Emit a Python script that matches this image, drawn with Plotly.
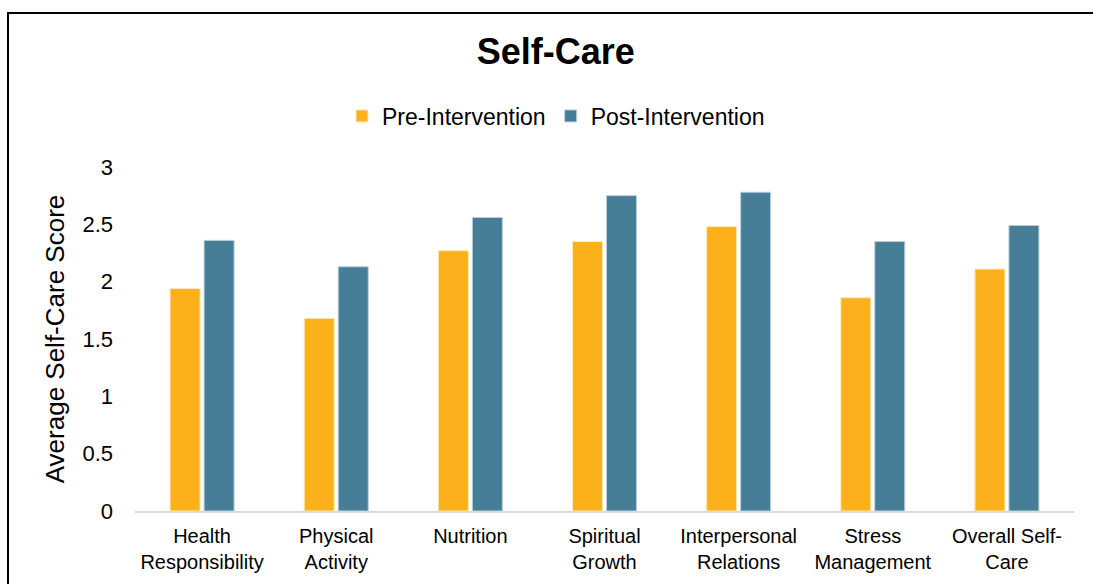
import plotly.graph_objects as go

categories = ["Health<br>Responsibility", "Physical<br>Activity", "Nutrition",
              "Spiritual<br>Growth", "Interpersonal<br>Relations",
              "Stress<br>Management", "Overall Self-<br>Care"]
pre_values = [1.94, 1.68, 2.27, 2.35, 2.48, 1.86, 2.11]
post_values = [2.36, 2.13, 2.56, 2.75, 2.78, 2.35, 2.49]
y_ticks = [0, 0.5, 1, 1.5, 2, 2.5, 3]

FONT = "Arial, 'Liberation Sans', sans-serif"
W, H = 1093, 584
L, R, T, B = 135, 19, 167, 73
pw, ph = W - L - R, H - T - B

def px_to_paper_x(px):
    return (px - L) / pw

def px_to_paper_y(py):
    return (H - B - py) / ph

fig = go.Figure()
fig.add_trace(go.Bar(x=categories, y=pre_values, name="Pre-Intervention",
                     marker=dict(color="#FCB11C", line=dict(color="#FFE9B5", width=1))))
fig.add_trace(go.Bar(x=categories, y=post_values, name="Post-Intervention",
                     marker=dict(color="#467E98", line=dict(color="#B9CFDA", width=1))))

fig.update_layout(
    width=W, height=H,
    margin=dict(l=L, r=R, t=T, b=B, autoexpand=False),
    paper_bgcolor="white", plot_bgcolor="white",
    font=dict(family=FONT, color="#000000", size=21),
    barmode="group", bargap=0.493, bargroupgap=0.118,
    title=dict(text="<b>Self-Care</b>", font=dict(size=36, family=FONT, color="#000"),
               x=555.7 / W, xanchor="center", y=1 - 51 / H, yanchor="middle",
               xref="container", yref="container"),
    legend=dict(orientation="h", x=px_to_paper_x(556), xanchor="center",
                y=px_to_paper_y(116), yanchor="middle",
                font=dict(size=23, family=FONT, color="#000"),
                itemwidth=30, tracegroupgap=0, bgcolor="rgba(0,0,0,0)"),
    showlegend=True,
)
fig.update_xaxes(showgrid=False, showline=True, linecolor="#D9D9D9", linewidth=2,
                 ticks="", tickfont=dict(size=20, family=FONT, color="#000"),
                 ticklabelstandoff=6, automargin=False, fixedrange=True)
fig.update_yaxes(range=[0, 3], tickvals=y_ticks, showgrid=False, showline=False,
                 zeroline=False, ticks="",
                 tickfont=dict(size=22, family=FONT, color="#000"),
                 ticklabelstandoff=21, automargin=False,
                 title=dict(text="Average Self-Care Score", font=dict(size=26, family=FONT, color="#000"),
                            standoff=10),
                 fixedrange=True)

fig.add_shape(type="rect", xref="paper", yref="paper",
              x0=px_to_paper_x(8), x1=px_to_paper_x(1110),
              y0=px_to_paper_y(600), y1=px_to_paper_y(13),
              line=dict(color="#000", width=2), fillcolor="rgba(0,0,0,0)", layer="below")

fig.write_html("out.html", config={"displayModeBar": False})
